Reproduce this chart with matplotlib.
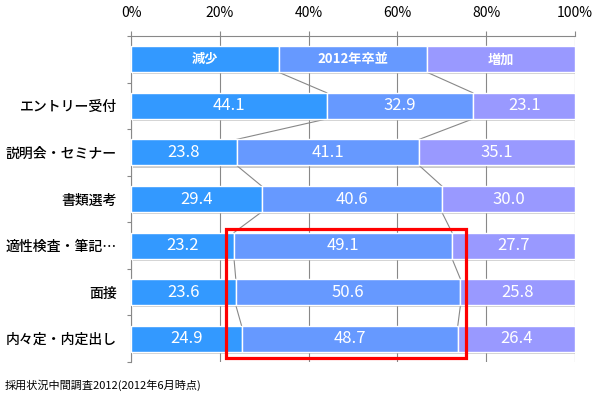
import matplotlib.pyplot as plt
import matplotlib.patheffects as pe
from matplotlib.patches import Rectangle

plt.rcParams['font.family'] = ['Noto Sans CJK JP', 'DejaVu Sans']

# データ
categories = ['エントリー受付', '説明会・セミナー', '書類選考', '適性検査・筆記…', '面接', '内々定・内定出し']
decrease = [44.1, 23.8, 29.4, 23.2, 23.6, 24.9]
same = [32.9, 41.1, 40.6, 49.1, 50.6, 48.7]
increase = [23.1, 35.1, 30.0, 27.7, 25.8, 26.4]
header_labels = ['減少', '2012年卒並', '増加']
header_share = [33.3, 33.4, 33.3]
colors = ['#3399FF', '#6699FF', '#9999FF']
xticks = [0, 20, 40, 60, 80, 100]

fig = plt.figure(figsize=(5.97, 3.96), dpi=100)
ax = fig.add_axes([131 / 597, 1 - 362 / 396, 444 / 597, 326 / 396])

h = 0.56
shadow = [pe.SimplePatchShadow(offset=(1.5, -1.5), shadow_rgbFace='#999999', alpha=0.5), pe.Normal()]

# ヘッダ行 (凡例)
left = 0
for w, c, lab in zip(header_share, colors, header_labels):
    b = ax.barh(0, w, left=left, height=h, color=c, edgecolor='white', linewidth=1, zorder=3)
    b[0].set_path_effects(shadow)
    ax.text(left + w / 2, 0, lab, ha='center', va='center', color='white',
            fontsize=9.5, fontweight='bold', zorder=4)
    left += w

# データ行
rows = list(zip(decrease, same, increase))
for i, vals in enumerate(rows, start=1):
    left = 0
    for v, c in zip(vals, colors):
        b = ax.barh(i, v, left=left, height=h, color=c, edgecolor='white', linewidth=1, zorder=3)
        b[0].set_path_effects(shadow)
        ax.text(left + v / 2, i, f'{v:.1f}', ha='center', va='center', color='white',
                fontsize=12, zorder=4)
        left += v

# 区分線
cums = [(header_share[0], header_share[0] + header_share[1])]
cums += [(d, d + s) for d, s in zip(decrease, same)]
for i in range(len(cums) - 1):
    for k in range(2):
        ax.plot([cums[i][k], cums[i + 1][k]], [i + h / 2, i + 1 - h / 2],
                color='#888888', linewidth=0.8, zorder=2)

# 赤枠
ax.add_patch(Rectangle((21.4, 3.64), 54.1, 2.77, fill=False, edgecolor='#FF0000',
                       linewidth=2.3, zorder=5, clip_on=False))

ax.set_xlim(0, 100)
ax.set_ylim(6.5, -0.5)
ax.xaxis.tick_top()
ax.set_xticks(xticks)
ax.set_xticklabels([f'{t}%' for t in xticks], fontsize=10)
ax.tick_params(axis='x', length=3.5, color='#888888', pad=8)
ax.grid(axis='x', color='#888888', linewidth=0.8, zorder=0)

ax.set_yticks([y + 0.5 for y in range(-1, 7)])
ax.set_yticklabels([])
ax.set_yticks(range(1, 7), minor=True)
ax.set_yticklabels(categories, minor=True, fontsize=10, fontweight='medium')
ax.tick_params(axis='y', which='major', length=3, color='#888888')
ax.tick_params(axis='y', which='minor', length=0, pad=10)

for s in ['right', 'bottom']:
    ax.spines[s].set_visible(False)
for s in ['top', 'left']:
    ax.spines[s].set_color('#888888')

fig.text(5 / 597, 1 - 385 / 396, '採用状況中間調査2012(2012年6月時点)', fontsize=8, va='center')

fig.savefig('out.png', dpi=100)
